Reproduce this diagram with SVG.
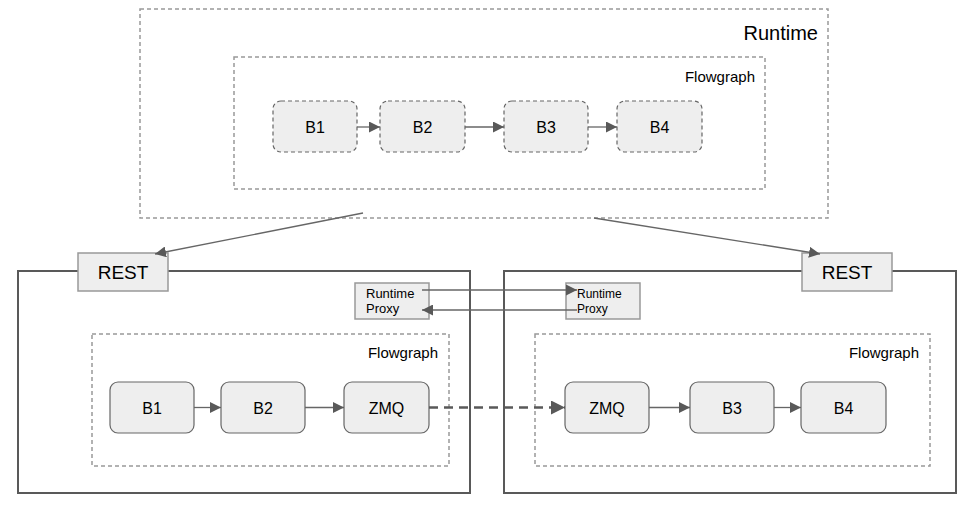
<svg xmlns="http://www.w3.org/2000/svg" width="975" height="509" viewBox="0 0 975 509">
<defs>
<style>
text{font-family:"Liberation Sans",Arial,sans-serif;fill:#000}
.dbox{fill:none;stroke:#999;stroke-width:1.5;stroke-dasharray:4 3}
.host{fill:none;stroke:#595959;stroke-width:2}
.dblk{fill:#eeeeee;stroke:#666;stroke-width:1.2;stroke-dasharray:4 3}
.blk{fill:#eeeeee;stroke:#666;stroke-width:1.2}
.sq{fill:#eeeeee;stroke:#999;stroke-width:1.5}
.lbl{font-size:16px;text-anchor:middle}
.c{fill:none;stroke:#666;stroke-width:1.3}
</style>
<marker id="ah" viewBox="0 0 10 10" refX="10" refY="5" markerWidth="11" markerHeight="11" markerUnits="userSpaceOnUse" orient="auto"><path d="M0,0 L10,5 L0,10 z" fill="#595959"/></marker>
<marker id="ahb" viewBox="0 0 10 10" refX="10" refY="5" markerWidth="14" markerHeight="14" markerUnits="userSpaceOnUse" orient="auto"><path d="M0,0 L10,5 L0,10 z" fill="#595959"/></marker>
</defs>

<g id="runtime">
<rect class="dbox" x="140" y="9" width="688" height="209"/>
<text x="818" y="40" font-size="20" text-anchor="end">Runtime</text>
</g>
<g id="runtime-flowgraph">
<rect class="dbox" x="234" y="57" width="531" height="132"/>
<text x="755" y="82" font-size="15" text-anchor="end">Flowgraph</text>
</g>
<g id="rt-b1"><rect class="dblk" x="273" y="101" width="84" height="51" rx="8"/><text class="lbl" x="315" y="133">B1</text></g>
<g id="rt-b2"><rect class="dblk" x="380" y="101" width="85" height="51" rx="8"/><text class="lbl" x="422.5" y="133">B2</text></g>
<g id="rt-b3"><rect class="dblk" x="504" y="101" width="84" height="51" rx="8"/><text class="lbl" x="546" y="133">B3</text></g>
<g id="rt-b4"><rect class="dblk" x="617" y="101" width="85" height="51" rx="8"/><text class="lbl" x="659.5" y="133">B4</text></g>

<g id="host-left">
<rect class="host" x="18" y="271" width="452" height="222"/>
</g>
<g id="rest-left"><rect class="sq" x="78" y="253" width="90" height="38"/><text x="123" y="279" font-size="19" text-anchor="middle">REST</text></g>
<g id="proxy-left"><rect class="sq" x="355" y="283" width="74" height="36"/><text x="366" y="298" font-size="13">Runtime</text><text x="366" y="313" font-size="13">Proxy</text></g>
<g id="flowgraph-left">
<rect class="dbox" x="92" y="334" width="357" height="132"/>
<text x="438" y="358" font-size="15" text-anchor="end">Flowgraph</text>
</g>
<g id="l-b1"><rect class="blk" x="110" y="382" width="84" height="51" rx="8"/><text class="lbl" x="152" y="414">B1</text></g>
<g id="l-b2"><rect class="blk" x="221" y="382" width="84" height="51" rx="8"/><text class="lbl" x="263" y="414">B2</text></g>
<g id="l-zmq"><rect class="blk" x="344" y="382" width="85" height="51" rx="8"/><text class="lbl" x="386.5" y="414">ZMQ</text></g>

<g id="host-right">
<rect class="host" x="504" y="271" width="452" height="222"/>
</g>
<g id="rest-right"><rect class="sq" x="802" y="253" width="90" height="38"/><text x="847" y="279" font-size="19" text-anchor="middle">REST</text></g>
<g id="proxy-right"><rect class="sq" x="566" y="283" width="74" height="36"/><text x="577" y="298" font-size="12">Runtime</text><text x="577" y="313" font-size="12">Proxy</text></g>
<g id="flowgraph-right">
<rect class="dbox" x="535" y="334" width="395" height="132"/>
<text x="919" y="358" font-size="15" text-anchor="end">Flowgraph</text>
</g>
<g id="r-zmq"><rect class="blk" x="565" y="382" width="84" height="51" rx="8"/><text class="lbl" x="607" y="414">ZMQ</text></g>
<g id="r-b3"><rect class="blk" x="690" y="382" width="84" height="51" rx="8"/><text class="lbl" x="732" y="414">B3</text></g>
<g id="r-b4"><rect class="blk" x="801" y="382" width="85" height="51" rx="8"/><text class="lbl" x="843.5" y="414">B4</text></g>

<g id="connectors">
<line class="c" x1="357" y1="127" x2="380" y2="127" marker-end="url(#ah)"/>
<line class="c" x1="465" y1="127" x2="504" y2="127" marker-end="url(#ah)"/>
<line class="c" x1="588" y1="127" x2="617" y2="127" marker-end="url(#ah)"/>
<line class="c" x1="363" y1="213" x2="155" y2="254" marker-end="url(#ah)"/>
<line class="c" x1="594" y1="218" x2="820" y2="254" marker-end="url(#ah)"/>
<line class="c" x1="422" y1="290" x2="577" y2="290" marker-end="url(#ah)"/>
<line class="c" x1="577" y1="310" x2="422" y2="310" marker-end="url(#ah)"/>
<line class="c" x1="194" y1="407.5" x2="221" y2="407.5" marker-end="url(#ah)"/>
<line class="c" x1="305" y1="407.5" x2="344" y2="407.5" marker-end="url(#ah)"/>
<line class="c" x1="649" y1="407.5" x2="690" y2="407.5" marker-end="url(#ah)"/>
<line class="c" x1="774" y1="407.5" x2="801" y2="407.5" marker-end="url(#ah)"/>
<line x1="429" y1="407.5" x2="565" y2="407.5" stroke="#595959" stroke-width="2.6" stroke-dasharray="9 6" marker-end="url(#ahb)"/>
</g>
</svg>
